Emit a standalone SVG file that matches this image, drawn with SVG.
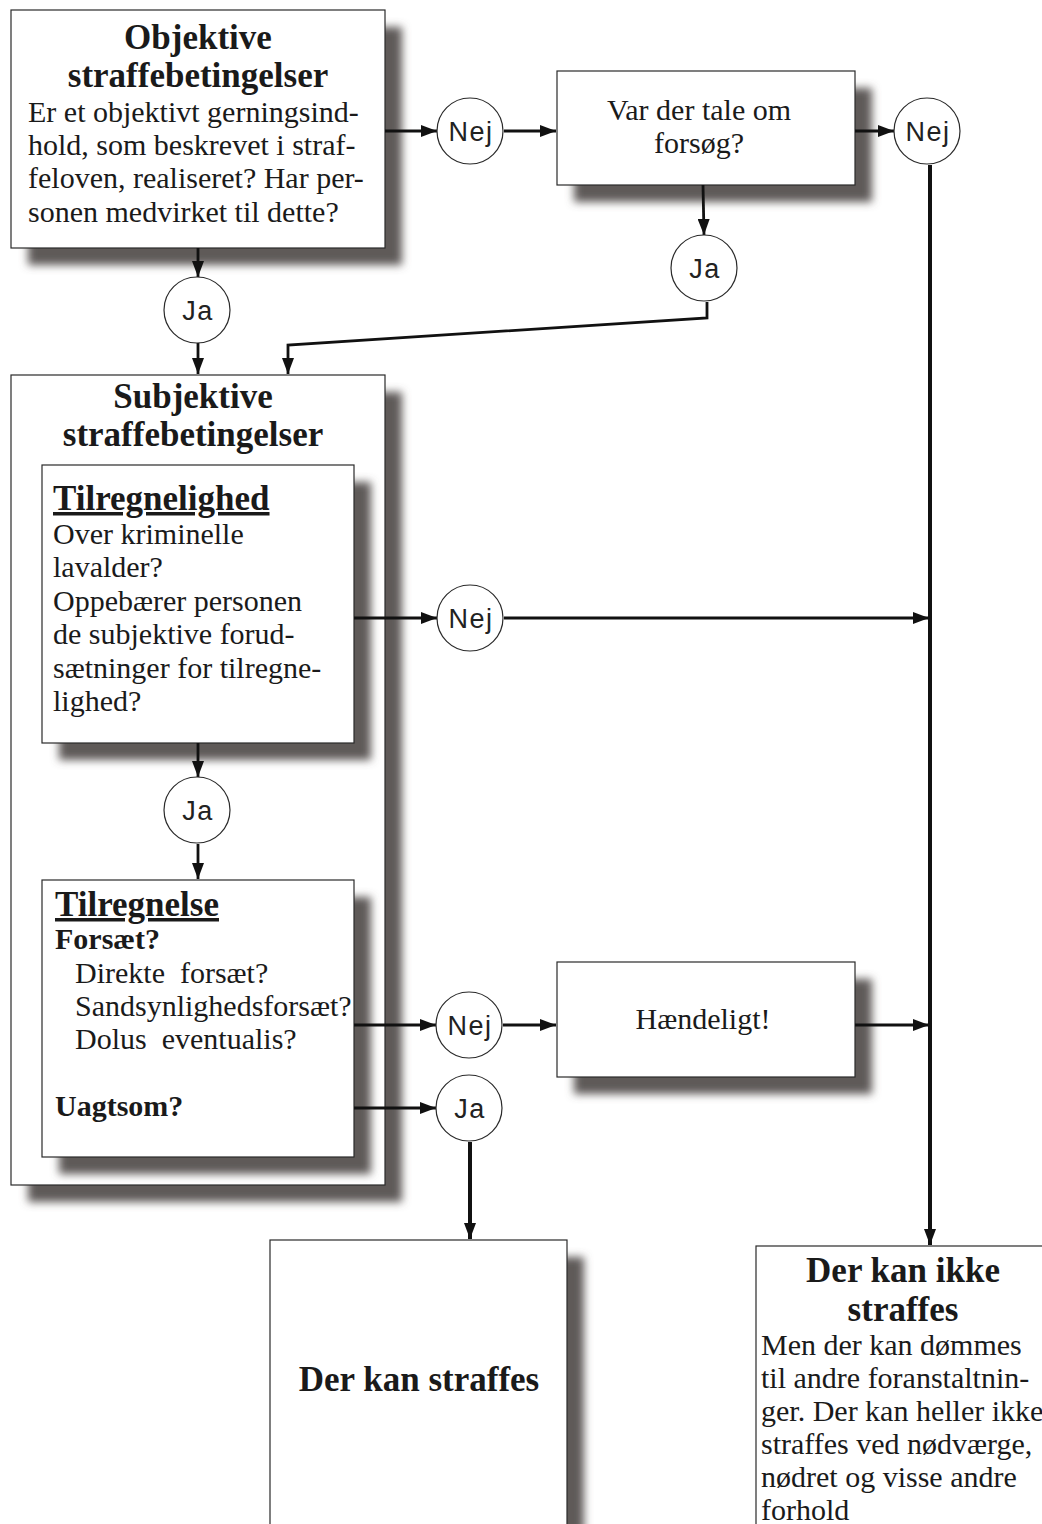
<svg xmlns="http://www.w3.org/2000/svg" width="1042" height="1524" viewBox="0 0 1042 1524">
<style>
.box{fill:#fff;stroke:#2a2a2a;stroke-width:1.2}
.sh{fill:#5f5a59;filter:url(#blur)}
.t{font-family:"Liberation Serif","Times New Roman",serif;fill:#1a1a1a}
.h{font-size:35px;font-weight:bold}
.b{font-size:30px}
.c{fill:#fff;stroke:#2a2a2a;stroke-width:1.2}
.ct{font-family:"Liberation Sans",Arial,sans-serif;font-size:27px;letter-spacing:1.5px;fill:#222;text-anchor:middle}
.ln{fill:none;stroke:#111;stroke-width:2.8}
.lt{fill:none;stroke:#111;stroke-width:4}
</style>
<defs>
<filter id="blur" x="-20%" y="-20%" width="140%" height="140%"><feGaussianBlur stdDeviation="4"/></filter>
<marker id="ah" viewBox="0 0 16 12" refX="16" refY="6" markerWidth="16" markerHeight="12" markerUnits="userSpaceOnUse" orient="auto"><path d="M0,0L16,6L0,12z" fill="#111"/></marker>
</defs>

<g id="n-objektive">
<rect class="sh" x="28" y="27" width="374" height="238"/>
<rect class="box" x="11" y="10" width="374" height="238"/>
<text class="t h" x="198" y="49" text-anchor="middle">Objektive</text>
<text class="t h" x="198" y="87" text-anchor="middle">straffebetingelser</text>
<text class="t b" x="28" y="122">Er et objektivt gerningsind-</text>
<text class="t b" x="28" y="155">hold, som beskrevet i straf-</text>
<text class="t b" x="28" y="188">feloven, realiseret? Har per-</text>
<text class="t b" x="28" y="222">sonen medvirket til dette?</text>
</g>

<g id="n-forsog">
<rect class="sh" x="574" y="88" width="298" height="114"/>
<rect class="box" x="557" y="71" width="298" height="114"/>
<text class="t b" x="699" y="120" text-anchor="middle">Var der tale om</text>
<text class="t b" x="699" y="153" text-anchor="middle">forsøg?</text>
</g>

<g id="n-subjektive">
<rect class="sh" x="28" y="392" width="374" height="810"/>
<rect class="box" x="11" y="375" width="374" height="810"/>
<text class="t h" x="193" y="408" text-anchor="middle">Subjektive</text>
<text class="t h" x="193" y="446" text-anchor="middle">straffebetingelser</text>
</g>

<g id="n-tilregnelighed">
<rect class="sh" x="59" y="482" width="312" height="278"/>
<rect class="box" x="42" y="465" width="312" height="278"/>
<text class="t h" x="53" y="510" text-decoration="underline">Tilregnelighed</text>
<text class="t b" x="53" y="544">Over kriminelle</text>
<text class="t b" x="53" y="577">lavalder?</text>
<text class="t b" x="53" y="611">Oppebærer personen</text>
<text class="t b" x="53" y="644">de subjektive forud-</text>
<text class="t b" x="53" y="678">sætninger for tilregne-</text>
<text class="t b" x="53" y="711">lighed?</text>
</g>

<g id="n-tilregnelse">
<rect class="sh" x="59" y="897" width="312" height="277"/>
<rect class="box" x="42" y="880" width="312" height="277"/>
<text class="t h" x="55" y="916" text-decoration="underline">Tilregnelse</text>
<text class="t b" x="55" y="949" font-weight="bold">Forsæt?</text>
<text class="t b" x="75" y="983" xml:space="preserve">Direkte  forsæt?</text>
<text class="t b" x="75" y="1016">Sandsynlighedsforsæt?</text>
<text class="t b" x="75" y="1049" xml:space="preserve">Dolus  eventualis?</text>
<text class="t b" x="55" y="1116" font-weight="bold">Uagtsom?</text>
</g>

<g id="n-haendeligt">
<rect class="sh" x="574" y="979" width="298" height="115"/>
<rect class="box" x="557" y="962" width="298" height="115"/>
<text class="t b" x="703" y="1029" text-anchor="middle">Hændeligt!</text>
</g>

<g id="n-straffes">
<rect class="sh" x="287" y="1257" width="297" height="290"/>
<rect class="box" x="270" y="1240" width="297" height="300"/>
<text class="t h" x="419" y="1391" text-anchor="middle">Der kan straffes</text>
</g>

<g id="n-ikke-straffes">
<rect class="box" x="756" y="1246" width="300" height="300"/>
<text class="t h" x="903" y="1282" text-anchor="middle">Der kan ikke</text>
<text class="t h" x="903" y="1321" text-anchor="middle">straffes</text>
<text class="t b" x="761" y="1355">Men der kan dømmes</text>
<text class="t b" x="761" y="1388">til andre foranstaltnin-</text>
<text class="t b" x="761" y="1421">ger. Der kan heller ikke</text>
<text class="t b" x="761" y="1454">straffes ved nødværge,</text>
<text class="t b" x="761" y="1487">nødret og visse andre</text>
<text class="t b" x="761" y="1520">forhold</text>
</g>

<g id="connectors">
<path class="ln" d="M385,131H437" marker-end="url(#ah)"/>
<path class="ln" d="M504,131H556" marker-end="url(#ah)"/>
<path class="ln" d="M855,131H894" marker-end="url(#ah)"/>
<path class="lt" d="M930,165V1245" marker-end="url(#ah)"/>
<path class="ln" d="M703,185L704,235" marker-end="url(#ah)"/>
<path class="ln" d="M707,302V318L288,345V374" marker-end="url(#ah)"/>
<path class="ln" d="M198,248V277" marker-end="url(#ah)"/>
<path class="ln" d="M198,343V374" marker-end="url(#ah)"/>
<path class="ln" d="M354,618H437" marker-end="url(#ah)"/>
<path class="ln" d="M504,618H929" marker-end="url(#ah)"/>
<path class="ln" d="M198,743V777" marker-end="url(#ah)"/>
<path class="ln" d="M198,844V879" marker-end="url(#ah)"/>
<path class="ln" d="M354,1025H436" marker-end="url(#ah)"/>
<path class="ln" d="M503,1025H556" marker-end="url(#ah)"/>
<path class="ln" d="M855,1025H929" marker-end="url(#ah)"/>
<path class="ln" d="M354,1108H436" marker-end="url(#ah)"/>
<path class="lt" d="M470,1142V1239" marker-end="url(#ah)"/>
</g>

<g id="n-nej1"><circle class="c" cx="470" cy="131" r="33"/><text class="ct" x="471" y="141">Nej</text></g>
<g id="n-nej2"><circle class="c" cx="927" cy="131" r="33"/><text class="ct" x="928" y="141">Nej</text></g>
<g id="n-ja1"><circle class="c" cx="197" cy="310" r="33"/><text class="ct" x="198" y="320">Ja</text></g>
<g id="n-ja2"><circle class="c" cx="704" cy="268" r="33"/><text class="ct" x="705" y="278">Ja</text></g>
<g id="n-nej3"><circle class="c" cx="470" cy="618" r="33"/><text class="ct" x="471" y="628">Nej</text></g>
<g id="n-ja3"><circle class="c" cx="197" cy="810" r="33"/><text class="ct" x="198" y="820">Ja</text></g>
<g id="n-nej4"><circle class="c" cx="469" cy="1025" r="33"/><text class="ct" x="470" y="1035">Nej</text></g>
<g id="n-ja4"><circle class="c" cx="469" cy="1108" r="33"/><text class="ct" x="470" y="1118">Ja</text></g>
</svg>
